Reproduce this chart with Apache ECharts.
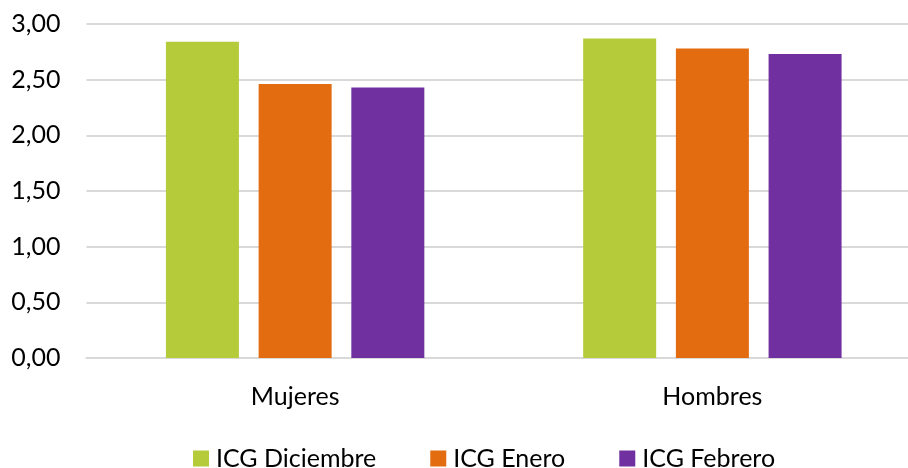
<!DOCTYPE html>
<html><head><meta charset="utf-8">
<script src="https://cdn.jsdelivr.net/npm/echarts@6/dist/echarts.min.js"></script>
<style>html,body{margin:0;padding:0;background:#fff;overflow:hidden}#c{width:921px;height:468px}</style>
</head><body><div id="c"></div>
<script>
const categories = ['Mujeres', 'Hombres'];
const seriesNames = ['ICG Diciembre', 'ICG Enero', 'ICG Febrero'];
const icgDiciembre = [2.84, 2.87];
const icgEnero = [2.46, 2.78];
const icgFebrero = [2.43, 2.73];
const colors = ['#B5CB39', '#E36C10', '#7030A0'];
const FONT = 'Lato';
const FS = 25;
const chart = echarts.init(document.getElementById('c'));
chart.setOption({
  animation: false,
  grid: { left: 86.5, top: 24, right: 0, bottom: 110, containLabel: false },
  legend: {
    top: 441, left: 188, itemWidth: 16, itemHeight: 16, itemGap: 54,
    icon: 'rect',
    textStyle: { fontFamily: FONT, fontSize: FS, color: '#000', padding: [0,0,0,2] },
    data: seriesNames
  },
  xAxis: {
    type: 'category', data: categories,
    axisLine: { lineStyle: { color: '#d9d9d9', width: 2 } },
    axisTick: { show: false },
    axisLabel: { fontFamily: FONT, fontSize: FS, color: '#000', margin: 26 }
  },
  yAxis: {
    type: 'value', min: 0, max: 3, interval: 0.5,
    axisLabel: { fontFamily: FONT, fontSize: FS, color: '#000', margin: 26,
      formatter: v => v.toFixed(2).replace('.', ',') },
    splitLine: { lineStyle: { color: '#d9d9d9', width: 2 } },
    axisLine: { show: false }, axisTick: { show: false }
  },
  series: [
    { name: seriesNames[0], type: 'bar', data: icgDiciembre, barWidth: 73, barGap: '27%', itemStyle: { color: colors[0] } },
    { name: seriesNames[1], type: 'bar', data: icgEnero, barWidth: 73, barGap: '27%', itemStyle: { color: colors[1] } },
    { name: seriesNames[2], type: 'bar', data: icgFebrero, barWidth: 73, barGap: '27%', itemStyle: { color: colors[2] } }
  ]
});
</script></body></html>
